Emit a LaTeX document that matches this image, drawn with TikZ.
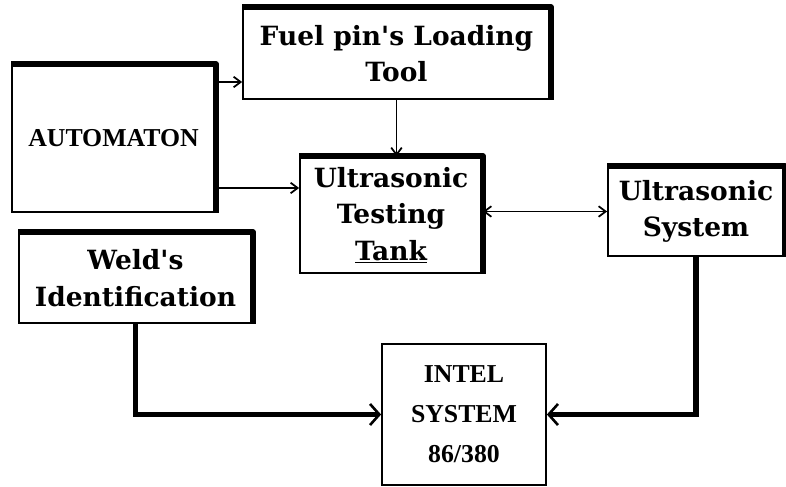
\documentclass[tikz,border=0pt]{standalone}
\usepackage{fontspec}
\usetikzlibrary{arrows.meta}
\newfontfamily\heavyfont{DejaVu Serif}
\newfontfamily\capsfont{Liberation Serif}
\begin{document}
\begin{tikzpicture}[x=0.03cm, y=-0.03cm, font=\heavyfont\fontsize{22.6}{31}\selectfont\bfseries, line width=1.5pt,
		box/.style={draw, align=center, inner sep=0pt},
		capsbox/.style={box, font=\capsfont\fontsize{22}{34}\selectfont\bfseries},
		feed/.style={-{Straight Barb[length=6pt, width=9pt]}},
		bus/.style={line width=4.5pt, -{Straight Barb[length=8pt, width=18pt, line width=2.2pt]}}]
	\useasboundingbox (0,0) rectangle (786,487);
	\node[box, minimum width=9.21cm, minimum height=2.73cm] (tool) at (396.5,53.5) {Fuel pin's Loading\\Tool};
	\node[capsbox, minimum width=6.09cm, minimum height=4.41cm] (auto) at (113.5,138.5) {AUTOMATON};
	\node[box, minimum width=5.46cm, minimum height=3.48cm] (tank) at (391,215) {Ultrasonic\\Testing\\\underline{Tank}};
	\node[box, minimum width=5.28cm, minimum height=2.67cm] (ussys) at (696,211.5) {Ultrasonic\\System};
	\node[box, minimum width=6.99cm, minimum height=2.7cm] (weld) at (135.5,278) {Weld's\\Identification};
	\node[capsbox, minimum width=4.92cm, minimum height=4.23cm] (intel) at (464,414.5) {INTEL\\SYSTEM\\86/380};
	% heavy top and right edges
	\foreach \b in {tool,auto,tank,ussys,weld}
		\draw[line width=4.8pt, line join=round] (\b.north west) -- (\b.north east) -- (\b.south east);
	\draw[feed] (auto.east |- 0,82) -- (tool.west |- 0,82);
	\draw[feed] (auto.east |- 0,188) -- (tank.west |- 0,188);
	\draw[feed] (tool.south) -- (tool.south |- tank.north);
	\draw[{Straight Barb[length=6pt, width=9pt]}-{Straight Barb[length=6pt, width=9pt]}] (tank.east |- ussys.west) -- (ussys.west);
	\draw[bus] (weld.south) |- (intel.west);
	\draw[bus] (ussys.south) |- (intel.east);
\end{tikzpicture}
\end{document}
